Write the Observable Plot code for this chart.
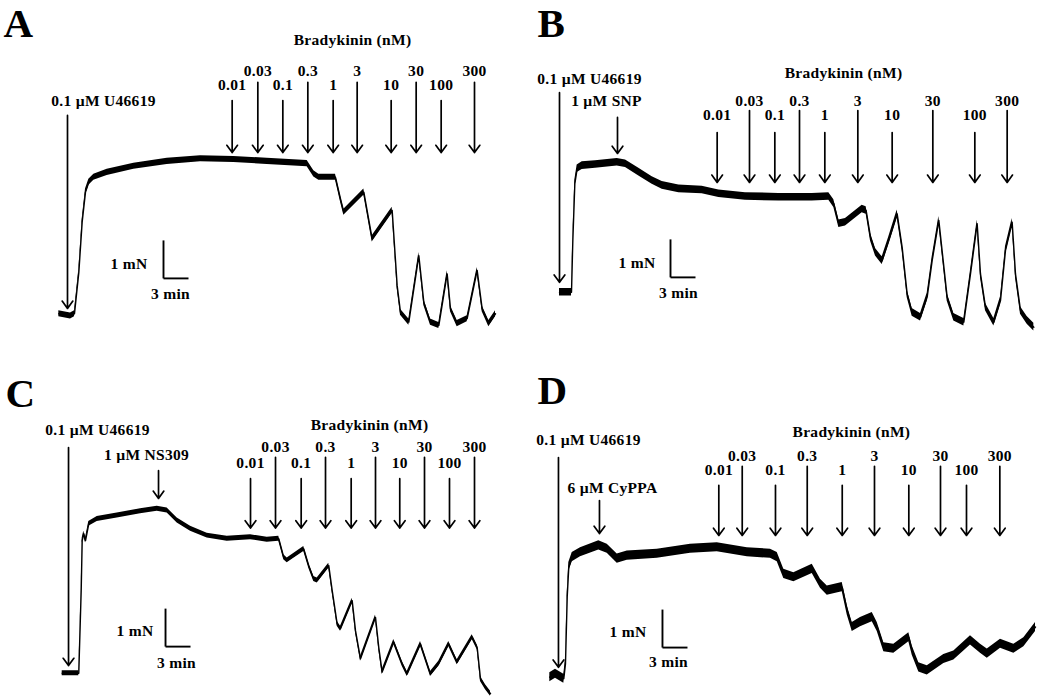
<!DOCTYPE html>
<html><head><meta charset="utf-8">
<script src="https://cdn.jsdelivr.net/npm/d3@7"></script>
<script src="https://cdn.jsdelivr.net/npm/@observablehq/plot@0.6"></script>
<style>
body{margin:0;background:#fff}
#grid{display:grid;grid-template-columns:520px 519px;grid-template-rows:350px 350px;width:1039px}
svg{display:block}
svg text{letter-spacing:0.3px}
</style>
</head><body><div id="grid"></div>
<script>
// ---------- DATA ----------
const panels = ["A", "B", "C", "D"];
const concentrations = ["0.01", "0.03", "0.1", "0.3", "1", "3", "10", "30", "100", "300"];
const bkTitle = "Bradykinin (nM)";
const agonistLabel = "0.1 \u00b5M U46619";
const pretreatLabels = [null, "1 \u00b5M SNP", "1 \u00b5M NS309", "6 \u00b5M CyPPA"];
const scaleTime = 3;   // min
const scaleForce = 1;  // mN

// tension traces: [time (min), force (mN above resting)]
const traceA = [[0.04,0.02],[1.44,-0.04],[1.92,0.02],[2.44,1.11],[2.84,2.43],[3.24,3.22],[3.64,3.48],[4.24,3.61],[5.84,3.74],[9.04,3.90],[13.04,4.03],[17.04,4.10],[21.04,4.08],[25.04,4.03],[29.84,3.97],[30.64,3.70],[31.24,3.61],[33.24,3.61],[33.84,3.04],[34.24,2.69],[36.64,3.22],[37.64,1.99],[40.04,2.74],[40.64,0.76],[41.04,0.06],[42.04,-0.20],[43.24,1.55],[43.84,0.32],[44.64,-0.20],[45.64,-0.29],[46.64,1.07],[47.04,0.15],[47.84,-0.24],[49.04,-0.11],[50.24,1.16],[50.84,0.15],[51.64,-0.24],[52.44,0.02]];
const traceB = [[0.12,0],[1.56,0],[1.72,1.36],[1.96,2.85],[2.24,3.25],[2.84,3.33],[4.44,3.36],[7.04,3.42],[8.04,3.38],[9.64,3.16],[11.24,2.94],[12.44,2.81],[14.44,2.72],[17.24,2.69],[19.24,2.59],[22.44,2.52],[26.44,2.50],[30.44,2.50],[32.44,2.52],[33.04,2.33],[33.64,1.80],[34.44,1.84],[36.44,2.19],[36.92,2.15],[37.44,1.45],[38.04,1.05],[38.84,0.83],[39.64,1.36],[40.64,2.06],[41.24,1.18],[41.84,-0.04],[42.44,-0.53],[43.44,-0.66],[44.24,-0.13],[44.84,0.83],[45.64,1.89],[46.12,0.92],[46.64,-0.13],[47.44,-0.66],[48.64,-0.79],[49.44,0.48],[50.24,1.80],[50.64,0.48],[51.24,-0.39],[52.24,-0.79],[53.04,-0.22],[53.64,1.10],[54.44,1.84],[54.84,0.48],[55.44,-0.48],[56.24,-0.74],[57.04,-0.92]];
const traceC = [[0,0],[1.99,0],[2.28,2.18],[2.40,3.49],[2.59,3.67],[2.80,3.49],[3.19,3.93],[4.20,4.06],[6.60,4.15],[9.40,4.26],[11.40,4.33],[12.60,4.28],[13.80,4.02],[15.40,3.80],[17.40,3.62],[19.80,3.54],[22.60,3.58],[24.60,3.51],[25.99,3.54],[26.59,3.05],[27.00,2.97],[28.99,3.27],[29.59,2.83],[30.19,2.48],[30.60,2.44],[31.99,2.83],[32.40,2.18],[33.00,1.30],[33.40,1.17],[34.80,1.91],[35.20,1.12],[35.80,0.38],[37.60,1.47],[37.99,0.68],[38.40,0.03],[39.79,0.82],[40.80,0.25],[41.40,-0.02],[43.00,0.77],[44.20,-0.02],[45.19,0.25],[46.39,0.77],[47.40,0.29],[49.20,0.95],[49.80,0.68],[50.20,-0.15],[50.80,-0.37],[51.40,-0.54]];
const traceD = [[0,-0.09],[0.68,0],[1.68,-0.13],[1.88,0.26],[2.09,2.02],[2.28,2.81],[2.69,3.07],[3.68,3.20],[5.88,3.38],[6.89,3.29],[8.09,3.03],[9.29,3.11],[12.89,3.16],[16.88,3.29],[20.09,3.33],[23.69,3.20],[26.48,3.16],[27.29,3.07],[28.08,2.63],[29.28,2.54],[31.49,2.76],[32.48,2.37],[33.29,2.19],[35.09,2.28],[35.69,1.67],[36.29,1.23],[37.28,1.36],[38.69,1.49],[39.29,1.23],[40.08,0.70],[41.28,0.66],[43.08,0.96],[43.49,0.61],[44.28,0.17],[45.29,0.09],[47.28,0.39],[48.48,0.48],[50.48,0.88],[51.68,0.66],[52.49,0.53],[54.08,0.79],[55.68,0.66],[56.88,0.83],[58.28,1.23]];

// addition times (min)
const bradykininTimesA = [20.84, 23.92, 26.92, 29.92, 32.96, 35.84, 39.92, 42.92, 45.92, 49.92];
const bradykininTimesB = [19.04, 22.92, 25.96, 28.92, 31.96, 35.92, 40.04, 44.92, 49.96, 53.84];
const bradykininTimesC = [22.60, 25.60, 28.68, 31.60, 34.68, 37.60, 40.51, 43.48, 46.48, 49.48];
const bradykininTimesD = [20.28, 23.09, 27.08, 30.89, 35.09, 38.96, 43.08, 46.88, 50.00, 54.00];
const agonistTimes = [1.08, 0.12, 0.76, 1.04];
const pretreatTimes = [null, 7.08, 11.56, 5.96];

// ---------- LAYOUT (annotation placement, in min / mN) ----------
const layout = [
  {w:520, x:[-6.96,55.44], y:[-0.947,8.263], noise:0.08, letterDx:3, letterDy:7,
   tip:4.26, lowStart:5.63, upStart:6.11, lowLab:6.03, upLab:6.42, title:[35.28,7.21],
   ag:[5.24,0.16], agLab:[5.4,5.63], pre:null, preLab:null,
   bar:[12.6,0.95], mN:[10.68,1.34], min:[13.44,0.55]},
  {w:519, x:[-4.56,57.72], y:[-1.534,7.676], noise:0.1, letterDx:17, letterDy:7,
   tip:2.89, lowStart:4.20, upStart:4.78, lowLab:4.65, upLab:5.04, title:[34.2,5.78],
   ag:[5.25,0.26], agLab:[3.72,5.62], pre:[4.60,3.65], preLab:[5.76,5.04],
   bar:[13.44,0.39], mN:[11.64,0.76], min:[14.4,-0.03]},
  {w:520, x:[-7.404,55.0], y:[-0.718,8.492], noise:0.065, letterDx:5, letterDy:27,
   tip:3.82, lowStart:5.12, upStart:5.68, lowLab:5.54, upLab:5.94, title:[36.88,6.52],
   ag:[5.94,0.20], agLab:[4.24,6.39], pre:[5.33,4.60], preLab:[10.12,5.73],
   bar:[12.40,0.70], mN:[10.96,1.12], min:[13.72,0.28]},
  {w:519, x:[-3.516,58.76], y:[-0.703,8.508], noise:0.12, letterDx:17, letterDy:24,
   tip:3.64, lowStart:4.96, upStart:5.46, lowLab:5.35, upLab:5.74, title:[36.19,6.35],
   ag:[5.69,0.17], agLab:[4.64,6.16], pre:[4.56,3.69], preLab:[7.52,4.90],
   bar:[13.52,0.69], mN:[11.6,1.09], min:[14.24,0.30]}
];

const traces = [traceA, traceB, traceC, traceD];
const bkTimes = [bradykininTimesA, bradykininTimesB, bradykininTimesC, bradykininTimesD];

const FONT = "Liberation Serif";
const txt = {fontFamily: FONT, fontWeight: "bold", fontSize: 15.5, fill: "#000"};
const arr = {stroke: "#000", strokeWidth: 1.7, headLength: 8, headAngle: 72};

function makePanel(i) {
  const L = layout[i];
  const trace = traces[i].map(([t, f]) => ({t, f}));
  const bk = bkTimes[i].map((t, k) => ({t, label: concentrations[k], up: k % 2 === 1}));
  const marks = [
    Plot.areaY(trace, {x: "t", y1: d => d.f - L.noise, y2: d => d.f + L.noise, fill: "#000"}),
    Plot.line(trace, {x: "t", y: "f", stroke: "#000", strokeWidth: 1.4}),
    Plot.arrow(bk, {x: "t", y1: d => d.up ? L.upStart : L.lowStart, y2: L.tip, ...arr}),
    Plot.text(bk, {x: "t", y: d => d.up ? L.upLab : L.lowLab, text: "label", ...txt}),
    Plot.text([bkTitle], {x: L.title[0], y: L.title[1], text: d => d, ...txt}),
    Plot.arrow([agonistTimes[i]], {x: d => d, y1: L.ag[0], y2: L.ag[1], ...arr}),
    Plot.text([agonistLabel], {x: L.agLab[0], y: L.agLab[1], text: d => d, ...txt}),
    Plot.link([
      {x1: L.bar[0], y1: L.bar[1], x2: L.bar[0], y2: L.bar[1] + scaleForce},
      {x1: L.bar[0], y1: L.bar[1], x2: L.bar[0] + scaleTime, y2: L.bar[1]}
    ], {x1: "x1", y1: "y1", x2: "x2", y2: "y2", stroke: "#000", strokeWidth: 1.9}),
    Plot.text([`${scaleForce} mN`], {x: L.mN[0], y: L.mN[1], text: d => d, textAnchor: "end", ...txt}),
    Plot.text([`${scaleTime} min`], {x: L.min[0], y: L.min[1], text: d => d, ...txt}),
    Plot.text([panels[i]], {frameAnchor: "top-left", text: d => d, textAnchor: "start", lineAnchor: "top",
      dx: L.letterDx, dy: L.letterDy, fontFamily: FONT, fontWeight: "bold", fontSize: 41, fill: "#000"})
  ];
  if (pretreatTimes[i] != null) {
    marks.push(Plot.arrow([pretreatTimes[i]], {x: d => d, y1: L.pre[0], y2: L.pre[1], ...arr}));
    marks.push(Plot.text([pretreatLabels[i]], {x: L.preLab[0], y: L.preLab[1], text: d => d, ...txt}));
  }
  return Plot.plot({
    width: L.w, height: 350, margin: 0,
    style: {background: "#fff", fontFamily: FONT},
    x: {domain: L.x, axis: null},
    y: {domain: L.y, axis: null},
    marks
  });
}

const grid = document.getElementById("grid");
for (let i = 0; i < 4; i++) grid.appendChild(makePanel(i));
</script>
</body></html>
